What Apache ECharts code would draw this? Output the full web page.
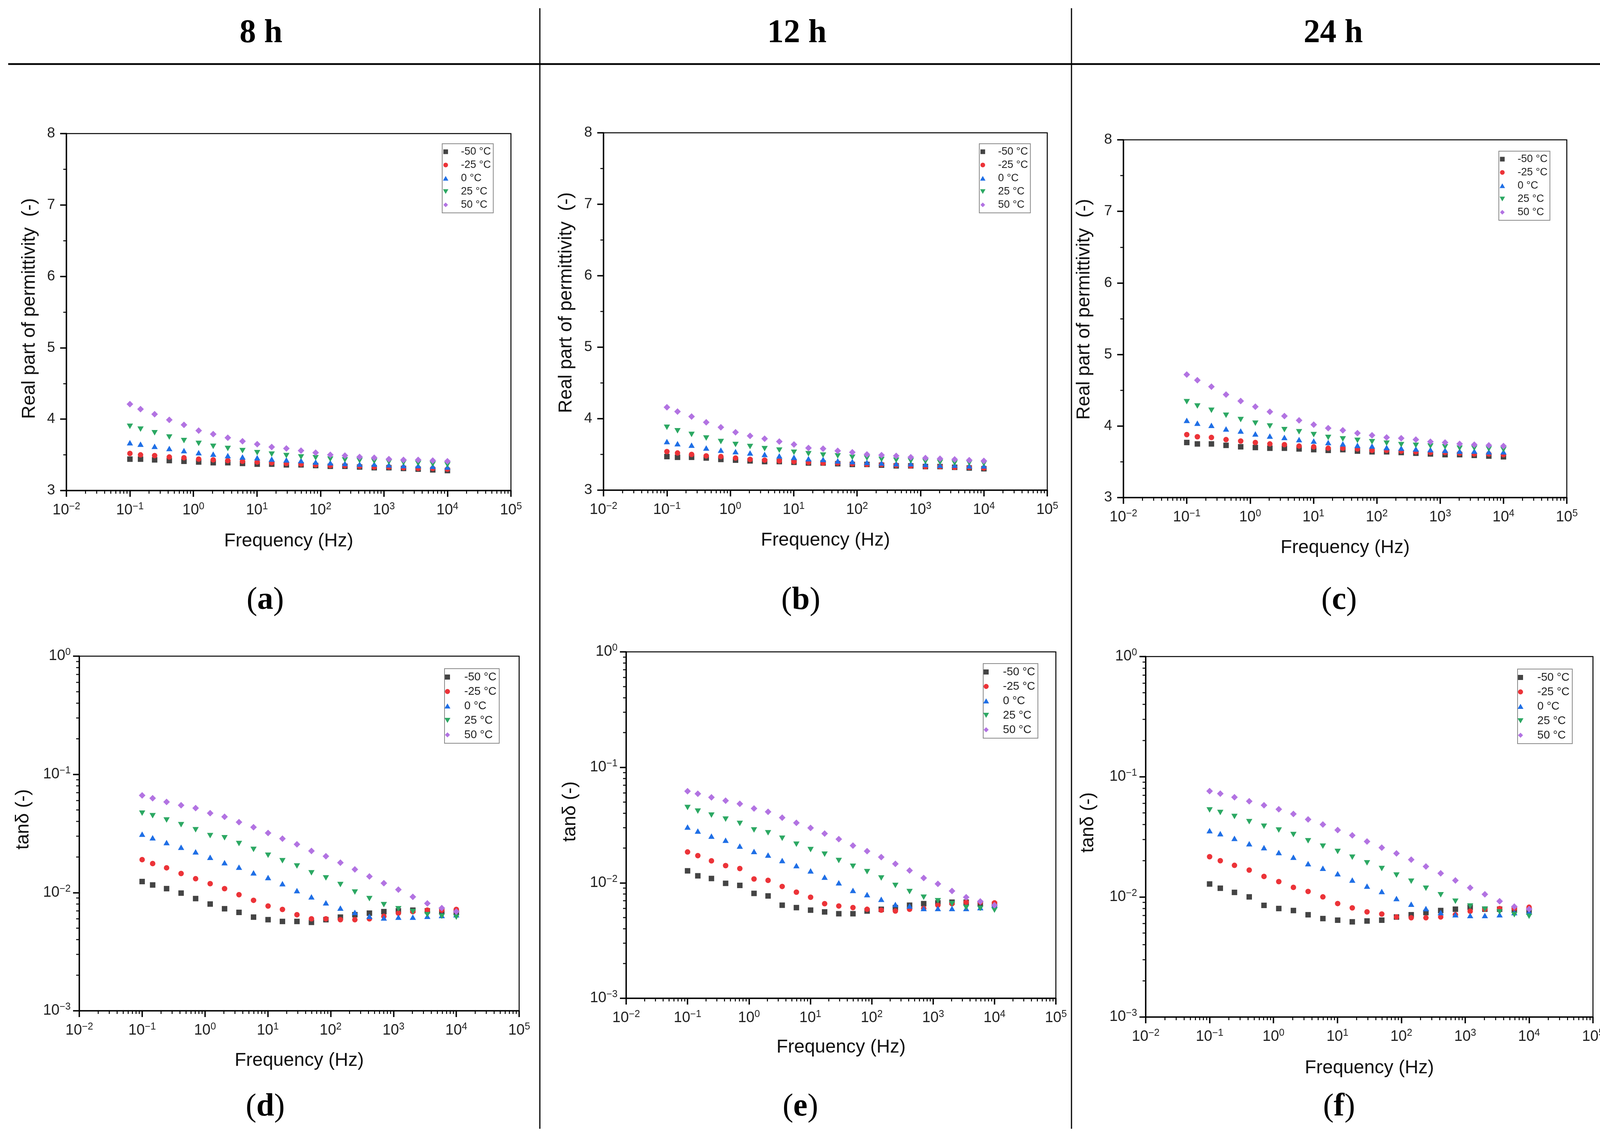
<!DOCTYPE html>
<html><head><meta charset="utf-8">
<script src="https://cdn.jsdelivr.net/npm/echarts@6/dist/echarts.min.js"></script>
<style>html,body{margin:0;padding:0;background:#fff}#c{width:4176px;height:2906px}</style>
</head><body><div id="c"></div>
<script>
// ---------- data ----------
const freq = [0.1, 0.147, 0.245, 0.417, 0.71, 1.21, 2.05, 3.48, 5.93, 10.1, 17.1, 29.1, 49.5, 84.1, 143, 243, 414, 703, 1197, 2033, 3459, 5875, 10000];
const tempNames = ['-50 °C', '-25 °C', '0 °C', '25 °C', '50 °C'];

// Real part of permittivity, 8 h
const eps8_m50 = [3.44,3.44,3.43,3.42,3.41,3.40,3.39,3.39,3.38,3.37,3.37,3.36,3.36,3.35,3.34,3.34,3.33,3.32,3.32,3.31,3.30,3.29,3.28];
const eps8_m25 = [3.52,3.50,3.49,3.47,3.46,3.44,3.43,3.42,3.41,3.40,3.39,3.38,3.37,3.36,3.35,3.35,3.34,3.33,3.33,3.32,3.31,3.31,3.30];
const eps8_0   = [3.67,3.65,3.62,3.59,3.56,3.53,3.51,3.49,3.47,3.46,3.44,3.43,3.42,3.40,3.39,3.38,3.37,3.37,3.36,3.35,3.35,3.34,3.33];
const eps8_25  = [3.90,3.86,3.81,3.75,3.70,3.66,3.62,3.59,3.56,3.53,3.51,3.49,3.47,3.46,3.44,3.43,3.42,3.41,3.40,3.39,3.38,3.37,3.36];
const eps8_50  = [4.21,4.14,4.07,3.99,3.92,3.84,3.79,3.74,3.69,3.65,3.61,3.59,3.56,3.53,3.50,3.49,3.47,3.46,3.44,3.43,3.43,3.42,3.41];
// 12 h
const eps12_m50 = [3.47,3.46,3.46,3.45,3.43,3.42,3.41,3.40,3.40,3.39,3.38,3.38,3.37,3.36,3.36,3.35,3.34,3.34,3.33,3.33,3.32,3.31,3.30];
const eps12_m25 = [3.54,3.52,3.50,3.48,3.47,3.45,3.43,3.42,3.41,3.40,3.39,3.38,3.38,3.37,3.36,3.36,3.35,3.34,3.33,3.33,3.32,3.32,3.31];
const eps12_0   = [3.68,3.65,3.63,3.59,3.56,3.54,3.52,3.50,3.48,3.46,3.44,3.43,3.41,3.40,3.39,3.38,3.37,3.37,3.36,3.35,3.35,3.34,3.34];
const eps12_25  = [3.88,3.83,3.78,3.73,3.68,3.64,3.61,3.58,3.56,3.53,3.51,3.49,3.48,3.46,3.45,3.43,3.42,3.41,3.40,3.39,3.38,3.38,3.37];
const eps12_50  = [4.16,4.10,4.03,3.95,3.88,3.81,3.76,3.72,3.68,3.64,3.59,3.58,3.55,3.53,3.50,3.49,3.48,3.46,3.45,3.44,3.43,3.42,3.41];
// 24 h
const eps24_m50 = [3.77,3.75,3.75,3.73,3.71,3.70,3.69,3.69,3.68,3.67,3.66,3.67,3.65,3.64,3.64,3.63,3.62,3.61,3.60,3.60,3.59,3.58,3.57];
const eps24_m25 = [3.88,3.85,3.84,3.81,3.79,3.77,3.75,3.74,3.72,3.71,3.69,3.69,3.68,3.66,3.66,3.65,3.64,3.63,3.63,3.62,3.61,3.61,3.60];
const eps24_0   = [4.08,4.04,4.01,3.96,3.93,3.89,3.86,3.84,3.81,3.79,3.77,3.75,3.73,3.72,3.70,3.69,3.68,3.67,3.66,3.65,3.65,3.64,3.64];
const eps24_25  = [4.34,4.28,4.22,4.15,4.09,4.04,4.00,3.95,3.92,3.88,3.84,3.82,3.80,3.78,3.76,3.74,3.73,3.72,3.71,3.69,3.69,3.68,3.67];
const eps24_50  = [4.72,4.64,4.55,4.44,4.35,4.27,4.20,4.14,4.08,4.02,3.97,3.94,3.90,3.87,3.84,3.83,3.81,3.78,3.77,3.75,3.74,3.73,3.72];

// tan delta, 8 h
const tan8_m50 = [0.0124,0.0116,0.0108,0.0099,0.0089,0.0080,0.0073,0.0068,0.0062,0.0059,0.0057,0.0057,0.0056,0.0059,0.0062,0.0065,0.0067,0.0069,0.0070,0.0071,0.0070,0.0069,0.0068];
const tan8_m25 = [0.0190,0.0176,0.0162,0.0145,0.0131,0.0119,0.0108,0.0096,0.0086,0.0077,0.0072,0.0065,0.0060,0.0060,0.0059,0.0059,0.0060,0.0063,0.0067,0.0069,0.0071,0.0071,0.0072];
const tan8_0   = [0.0312,0.0291,0.0265,0.0242,0.0221,0.0199,0.0179,0.0164,0.0147,0.0134,0.0119,0.0104,0.0092,0.0082,0.0074,0.0068,0.0063,0.0061,0.0062,0.0062,0.0063,0.0064,0.0065];
const tan8_25  = [0.0470,0.0447,0.0411,0.0375,0.0340,0.0303,0.0291,0.0260,0.0232,0.0207,0.0186,0.0168,0.0147,0.0133,0.0117,0.0101,0.0089,0.0079,0.0073,0.0069,0.0065,0.0063,0.0062];
const tan8_50  = [0.0664,0.0628,0.0585,0.0548,0.0519,0.0470,0.0438,0.0394,0.0357,0.0319,0.0286,0.0256,0.0225,0.0203,0.0179,0.0157,0.0137,0.0120,0.0106,0.0092,0.0081,0.0074,0.0069];
// 12 h
const tan12_m50 = [0.0127,0.0115,0.0109,0.0099,0.0095,0.0081,0.0077,0.0064,0.0061,0.0058,0.0056,0.0054,0.0054,0.0057,0.0059,0.0061,0.0064,0.0066,0.0067,0.0068,0.0068,0.0066,0.0065];
const tan12_m25 = [0.0185,0.0172,0.0155,0.0141,0.0133,0.0108,0.0105,0.0093,0.0083,0.0075,0.0066,0.0063,0.0061,0.0059,0.0058,0.0057,0.0059,0.0060,0.0064,0.0066,0.0068,0.0068,0.0067];
const tan12_0   = [0.0304,0.0281,0.0254,0.0234,0.0208,0.0187,0.0174,0.0156,0.0141,0.0127,0.0112,0.0100,0.0086,0.0079,0.0072,0.0065,0.0063,0.0060,0.0060,0.0060,0.0060,0.0061,0.0064];
const tan12_25  = [0.0449,0.0418,0.0386,0.0356,0.0327,0.0287,0.0271,0.0243,0.0216,0.0194,0.0177,0.0156,0.0139,0.0125,0.0110,0.0095,0.0084,0.0075,0.0070,0.0066,0.0061,0.0060,0.0058];
const tan12_50  = [0.0622,0.0591,0.0550,0.0515,0.0483,0.0440,0.0412,0.0367,0.0331,0.0299,0.0267,0.0239,0.0210,0.0188,0.0167,0.0146,0.0128,0.0110,0.0098,0.0085,0.0075,0.0069,0.0064];
// 24 h
const tan24_m50 = [0.0128,0.0118,0.0109,0.0100,0.0085,0.0080,0.0077,0.0071,0.0066,0.0064,0.0062,0.0063,0.0064,0.0068,0.0071,0.0074,0.0077,0.0079,0.0082,0.0079,0.0079,0.0079,0.0077];
const tan24_m25 = [0.0216,0.0200,0.0183,0.0167,0.0148,0.0134,0.0120,0.0111,0.0100,0.0088,0.0081,0.0075,0.0072,0.0068,0.0067,0.0067,0.0068,0.0071,0.0076,0.0079,0.0080,0.0080,0.0082];
const tan24_0   = [0.0356,0.0336,0.0307,0.0277,0.0257,0.0234,0.0214,0.0189,0.0173,0.0156,0.0138,0.0123,0.0111,0.0097,0.0087,0.0080,0.0074,0.0071,0.0070,0.0070,0.0071,0.0074,0.0075];
const tan24_25  = [0.0529,0.0504,0.0467,0.0423,0.0387,0.0360,0.0330,0.0293,0.0264,0.0239,0.0214,0.0192,0.0172,0.0152,0.0135,0.0118,0.0104,0.0092,0.0084,0.0079,0.0075,0.0071,0.0069];
const tan24_50  = [0.0759,0.0723,0.0675,0.0625,0.0579,0.0536,0.0490,0.0441,0.0400,0.0360,0.0325,0.0289,0.0257,0.0230,0.0204,0.0179,0.0157,0.0137,0.0119,0.0105,0.0092,0.0083,0.0079];

// ---------- style ----------
const FONT = '"Liberation Sans", Arial, sans-serif';
const SERIF = '"Liberation Serif", "Times New Roman", serif';
const colors = ['#444444', '#ec3338', '#1f6fe6', '#2ca863', '#b273e2'];
const symbols = ['rect', 'circle', 'triangle', 'path://M0,0L10,0L5,8.66Z', 'diamond'];
const symSizes = [14, 14, [16, 14], [16, 14], 17];
const legendIcons = ['path://M0,0H10V10H0Z', 'circle', 'path://M5,0L10,8.66L0,8.66Z', 'path://M0,0L10,0L5,8.66Z', 'path://M5,0L10,5L5,10L0,5Z'];

const panels = [
  { grid: [170, 342, 1138, 914], kind: 'eps', series: [eps8_m50, eps8_m25, eps8_0, eps8_25, eps8_50], legend: [1132, 368], yTitle: [76, 790], xGap: 106 },
  { grid: [1545, 340, 1136, 915], kind: 'eps', series: [eps12_m50, eps12_m25, eps12_0, eps12_25, eps12_50], legend: [2507, 368], yTitle: [1450, 775], xGap: 105 },
  { grid: [2876, 358, 1135, 916], kind: 'eps', series: [eps24_m50, eps24_m25, eps24_0, eps24_25, eps24_50], legend: [3837, 387], yTitle: [2776, 792], xGap: 105 },
  { grid: [203, 1680, 1126, 908], kind: 'tan', series: [tan8_m50, tan8_m25, tan8_0, tan8_25, tan8_50], legend: [1138, 1712], yTitle: [60, 2098], xGap: 104 },
  { grid: [1603, 1669, 1100, 887], kind: 'tan', series: [tan12_m50, tan12_m25, tan12_0, tan12_25, tan12_50], legend: [2517, 1699], yTitle: [1460, 2078], xGap: 102 },
  { grid: [2933, 1681, 1145, 923], kind: 'tan', series: [tan24_m50, tan24_m25, tan24_0, tan24_25, tan24_50], legend: [3885, 1713], yTitle: [2786, 2106], xGap: 107 }
];

function powLabel(v) {
  const e = Math.round(Math.log10(v));
  return '{b|10}{s|' + (e < 0 ? '\u2212' : '') + Math.abs(e) + '}';
}
const powRich = {
  b: { fontSize: 38, fontFamily: FONT, color: '#222', lineHeight: 44 },
  s: { fontSize: 25, fontFamily: FONT, color: '#222', lineHeight: 22, verticalAlign: 'top' }
};

// minor tick positions (2..9 within each decade)
function minorVals(k0, k1) {
  const out = [];
  for (let k = k0; k <= k1; k++) for (let m = 2; m <= 9; m++) out.push(+(m * Math.pow(10, k)).toPrecision(6));
  return out;
}
const minorX = minorVals(-2, 4);
const minorYtan = minorVals(-3, -1);

const option = {
  backgroundColor: '#fff',
  animation: false,
  grid: [], xAxis: [], yAxis: [], series: [], legend: [],
  graphic: []
};
const titleGraphics = [];

panels.forEach((p, i) => {
  const isTan = p.kind === 'tan';
  option.grid.push({
    left: p.grid[0], top: p.grid[1], width: p.grid[2], height: p.grid[3],
    show: true, borderColor: '#000', borderWidth: 2.5, backgroundColor: 'transparent', containLabel: false
  });
  option.xAxis.push({
    gridIndex: i, type: 'log', logBase: 10, min: 0.01, max: 100000, splitNumber: 7,
    axisLine: { show: true, onZero: false, lineStyle: { color: '#000', width: 3.5 } },
    axisTick: { show: true, inside: false, length: 16, lineStyle: { color: '#000', width: 3.5 } },
    axisLabel: { formatter: powLabel, rich: powRich, margin: 29, color: '#222' },
    splitLine: { show: false },
    name: 'Frequency (Hz)', nameLocation: 'middle', nameGap: p.xGap,
    nameTextStyle: { fontSize: 48, fontFamily: FONT, color: '#111' }
  });
  if (isTan) {
    option.yAxis.push({
      gridIndex: i, type: 'log', logBase: 10, min: 0.001, max: 1, splitNumber: 3,
      axisLine: { show: true, onZero: false, lineStyle: { color: '#000', width: 3.5 } },
      axisTick: { show: true, inside: false, length: 16, lineStyle: { color: '#000', width: 3.5 } },
      axisLabel: { formatter: powLabel, rich: powRich, margin: 22, color: '#222' },
      splitLine: { show: false }
    });
  } else {
    option.yAxis.push({
      gridIndex: i, type: 'value', min: 3, max: 8, interval: 1,
      axisLine: { show: true, onZero: false, lineStyle: { color: '#000', width: 3.5 } },
      axisTick: { show: true, inside: false, length: 16, lineStyle: { color: '#000', width: 3.5 } },
      minorTick: { show: true, splitNumber: 2, length: 8, lineStyle: { color: '#000', width: 2.5 } },
      axisLabel: { fontSize: 37, fontFamily: FONT, color: '#222', margin: 29 },
      splitLine: { show: false }
    });
  }
  // y-axis title (rotated)
  titleGraphics.push({
    type: 'text', x: p.yTitle[0], y: p.yTitle[1], rotation: Math.PI / 2,
    style: {
      text: isTan ? 'tan\u03b4 (-)' : 'Real part of permittivity  (-)',
      fontSize: 48, fontFamily: FONT, fill: '#111', align: 'center', verticalAlign: 'middle'
    }
  });
  // data series
  p.series.forEach((vals, s) => {
    option.series.push({
      type: 'scatter', name: tempNames[s], xAxisIndex: i, yAxisIndex: i,
      symbol: symbols[s], symbolSize: symSizes[s],
      itemStyle: { color: colors[s], opacity: 1 },
      data: freq.map((f, j) => [f, vals[j]]),
      z: 3 + s, silent: true
    });
  });
  // minor ticks on log axes, placed through the axis scale
  const yMin = isTan ? 0.001 : 3;
  const tickData = minorX.map(v => [v, yMin, 0]);
  if (isTan) minorYtan.forEach(v => tickData.push([0.01, v, 1]));
  option.series.push({
    type: 'custom', xAxisIndex: i, yAxisIndex: i, silent: true, clip: false, z: 10,
    dimensions: ['x', 'y', 'f'], encode: { x: 'x', y: 'y' },
    data: tickData,
    renderItem: function (params, api) {
      const pt = api.coord([api.value(0), api.value(1)]);
      const f = api.value(2);
      const shape = f === 0
        ? { x1: pt[0], y1: pt[1], x2: pt[0], y2: pt[1] + 8 }
        : { x1: pt[0] - 8, y1: pt[1], x2: pt[0], y2: pt[1] };
      return { type: 'line', shape: shape, style: { stroke: '#000', lineWidth: 2.5 } };
    }
  });
  // legend
  const legendData = tempNames.map((n, s) => ({ name: n, icon: legendIcons[s] }));
  option.legend.push(isTan ? {
    left: p.legend[0], top: p.legend[1], orient: 'vertical', selectedMode: false,
    padding: [7, 7, 7, 0], itemGap: 8, itemWidth: 76, itemHeight: 13, symbolKeepAspect: true,
    borderColor: '#8a8a8a', borderWidth: 2, backgroundColor: 'transparent',
    textStyle: { fontSize: 29, fontFamily: FONT, color: '#222' },
    data: legendData
  } : {
    left: p.legend[0], top: p.legend[1], orient: 'vertical', selectedMode: false,
    padding: [7, 6, 7, 2], itemGap: 7, itemWidth: 68, itemHeight: 12, symbolKeepAspect: true,
    borderColor: '#8a8a8a', borderWidth: 2, backgroundColor: 'transparent',
    textStyle: { fontSize: 27, fontFamily: FONT, color: '#222' },
    data: legendData
  });
});

// table frame and headings
option.graphic = [
  { type: 'line', shape: { x1: 21, y1: 164, x2: 4160, y2: 164 }, style: { stroke: '#000', lineWidth: 4.5 } },
  { type: 'line', shape: { x1: 1382, y1: 21, x2: 1382, y2: 2890 }, style: { stroke: '#000', lineWidth: 3 } },
  { type: 'line', shape: { x1: 2743, y1: 21, x2: 2743, y2: 2890 }, style: { stroke: '#000', lineWidth: 3 } },
  { type: 'text', x: 668, y: 86, style: { text: '8 h', font: 'bold 84px ' + SERIF, fill: '#000', align: 'center', verticalAlign: 'middle' } },
  { type: 'text', x: 2040, y: 86, style: { text: '12 h', font: 'bold 84px ' + SERIF, fill: '#000', align: 'center', verticalAlign: 'middle' } },
  { type: 'text', x: 3413, y: 86, style: { text: '24 h', font: 'bold 84px ' + SERIF, fill: '#000', align: 'center', verticalAlign: 'middle' } }
].concat(titleGraphics);
const subLabels = [['a', 679, 1538], ['b', 2050, 1538], ['c', 3428, 1538], ['d', 679, 2835], ['e', 2049, 2835], ['f', 3428, 2835]];
subLabels.forEach(l => {
  option.graphic.push({
    type: 'text', x: l[1], y: l[2],
    style: {
      text: '(' + '{l|' + l[0] + '})', fontSize: 82, fontFamily: SERIF, fill: '#000',
      align: 'center', verticalAlign: 'middle',
      rich: { l: { fontSize: 82, fontFamily: SERIF, fontWeight: 'bold', fill: '#000' } }
    }
  });
});

const chart = echarts.init(document.getElementById('c'), null, { renderer: 'canvas', width: 4176, height: 2906 });
chart.setOption(option);
</script>
</body></html>
